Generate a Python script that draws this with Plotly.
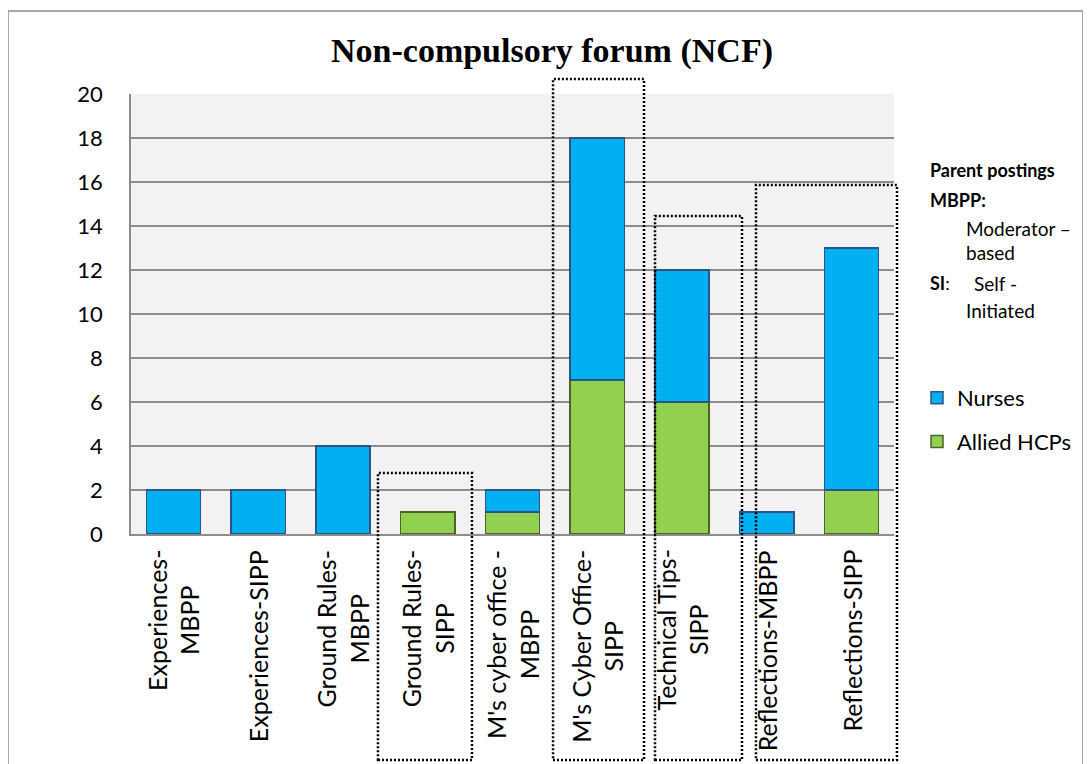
import plotly.graph_objects as go

# ---------------- data ----------------
categories = [
    "Experiences-MBPP", "Experiences-SIPP", "Ground Rules-MBPP", "Ground Rules-SIPP",
    "M's cyber office -MBPP", "M's Cyber Office-SIPP", "Technical Tips-SIPP",
    "Reflections-MBPP", "Reflections-SIPP",
]
tick_labels = [
    "Experiences-<br>MBPP", "Experiences-SIPP", "Ground Rules-<br>MBPP", "Ground Rules-<br>SIPP",
    "M's cyber office -<br>MBPP", "M's Cyber Office-<br>SIPP", "Technical Tips-<br>SIPP",
    "Reflections-MBPP", "Reflections-SIPP",
]
nurses = [2, 2, 4, 0, 1, 11, 6, 1, 11]
allied = [0, 0, 0, 1, 1, 7, 6, 0, 2]
y_ticks = [0, 2, 4, 6, 8, 10, 12, 14, 16, 18, 20]

# highlighted groups, in category-axis units: (left, right, top value)
boxes = [(2.413, 3.522, 2.77), (4.478, 5.551, 20.68), (5.681, 6.707, 14.45), (6.872, 8.535, 15.86)]
box_bottom = -10.27

# ---------------- layout geometry (screen px, page has an 8px body margin) ----------------
OFF = 8
W, H = 1091 - OFF, 764 - OFF
L, T = 131 - OFF, 94 - OFF
R, B = W - (894 - OFF), H - (534 - OFF)
PW, PH = W - L - R, H - T - B
N = len(categories)
YMAX = 20


def xp(px):
    return (px - OFF - L) / PW


def yp(py):
    return (H - B - (py - OFF)) / PH


def xdom(v):  # category-axis value -> x domain fraction, range [-0.5, N-0.5]
    return (v + 0.5) / N


def ydom(v):  # y value -> y domain fraction, range [0, YMAX]
    return v / YMAX


BLUE, GREEN = "#00B0F0", "#92D050"
BLUE_LINE, GREEN_LINE = "#2C5486", "#4F6228"
FONT = "Lato"

fig = go.Figure()
fig.add_trace(go.Bar(
    x=categories, y=[v if v else None for v in allied], name="Allied HCPs",
    marker=dict(color=GREEN, line=dict(color=GREEN_LINE, width=1.5)),
    legendgroup="a", legendrank=2,
))
fig.add_trace(go.Bar(
    x=categories, y=[v if v else None for v in nurses], name="Nurses",
    marker=dict(color=BLUE, line=dict(color=BLUE_LINE, width=1.5)),
    legendgroup="n", legendrank=1,
))

shapes = []
# outer chart border
shapes.append(dict(type="rect", xref="paper", yref="paper",
                   x0=xp(8), x1=xp(1083), y0=yp(780), y1=yp(11),
                   line=dict(color="#8c8c8c", width=1.5), layer="below"))
# dotted boxes
for x0, x1, top in boxes:
    shapes.append(dict(
        type="rect", xref="x domain", yref="y domain",
        x0=xdom(x0), x1=xdom(x1), y0=ydom(box_bottom), y1=ydom(top),
        line=dict(color="black", width=2.5, dash="2px,2px"),
    ))

annotations = []
for cat, lab in zip(categories, tick_labels):
    annotations.append(dict(
        x=cat, xref="x", y=yp(548), yref="paper", text=lab, showarrow=False,
        textangle=-90, xanchor="center", yanchor="top", align="center",
        font=dict(family=FONT, size=25, color="black"),
    ))

side = [
    ("<b>Parent postings</b>", 928, 170),
    ("<b>MBPP:</b>", 928, 200),
    ("Moderator \u2013", 964, 228),
    ("based", 964, 252),
    ("<b>SI</b>:", 928, 283),
    ("Self -", 972, 283),
    ("Initiated", 964, 310),
]
for txt, px, py in side:
    bold = txt.startswith("<b>")
    annotations.append(dict(
        x=xp(px), xref="paper", y=yp(py), yref="paper", text=txt, showarrow=False,
        xanchor="left", yanchor="middle",
        font=dict(family=FONT, size=18 if bold else 19, color="black"),
    ))

fig.update_layout(
    width=W, height=H,
    margin=dict(l=L, r=R, t=T, b=B, pad=0),
    paper_bgcolor="white", plot_bgcolor="#F2F2F2",
    barmode="stack", bargap=0.36,
    title=dict(text="<b>Non-compulsory forum (NCF)</b>", x=xp(552), xref="paper", xanchor="center",
               y=1 - (50 - OFF) / H, yref="container", yanchor="middle",
               font=dict(family="Liberation Serif", size=34, color="black")),
    xaxis=dict(showticklabels=False, showline=True, linecolor="#8c8c8c", linewidth=1.5,
               showgrid=False, ticks="", range=[-0.5, N - 0.5]),
    yaxis=dict(range=[0, YMAX], tickvals=y_ticks, showline=True, linecolor="#8c8c8c", linewidth=1.5,
               showgrid=True, gridcolor="#8c8c8c", gridwidth=1.5, zeroline=False, ticks="",
               ticklabelstandoff=22, tickfont=dict(family=FONT, size=22, color="black")),
    legend=dict(x=xp(917), y=yp(377), xanchor="left", yanchor="top", xref="paper", yref="paper",
                traceorder="grouped", tracegroupgap=12, bgcolor="rgba(0,0,0,0)",
                font=dict(family=FONT, size=22, color="black")),
    shapes=shapes, annotations=annotations,
)

fig.write_html("out.html")
